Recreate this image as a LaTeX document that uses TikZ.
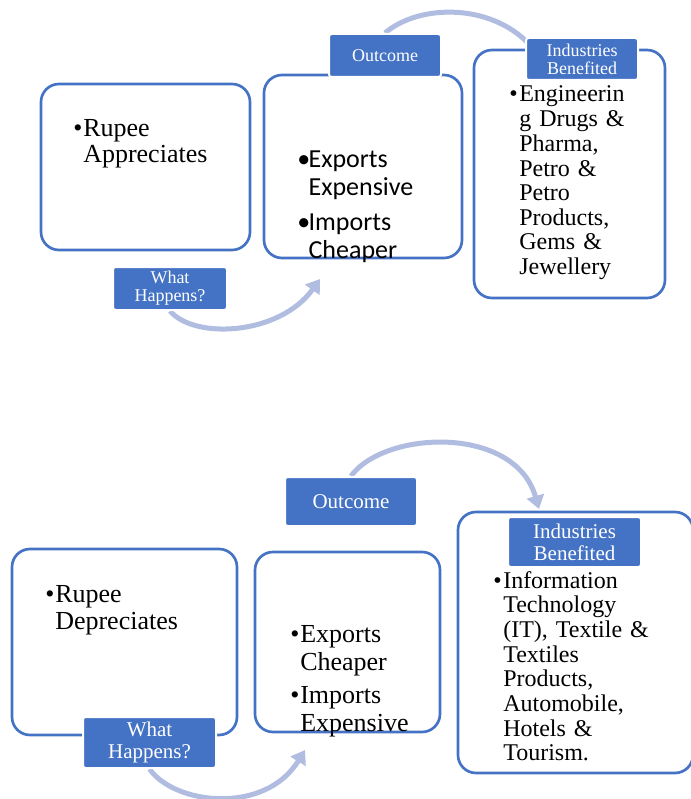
\documentclass[tikz,border=0pt]{standalone}
\usepackage{fontspec}
\setmainfont{Liberation Serif}
\newfontfamily\calib{Carlito}
\usetikzlibrary{arrows.meta,backgrounds}
\definecolor{smblue}{RGB}{68,114,196}
\definecolor{arrblue}{RGB}{176,189,225}
\newcommand{\blt}{\makebox[7.5pt][l]{\textbullet}}
\newcommand{\bin}{\hspace*{7.5pt}}
\newcommand{\bltC}{\makebox[8.5pt][l]{\textbullet}}
\newcommand{\binC}{\hspace*{8.5pt}}
\newcommand{\fszBody}{\fontsize{19.5}{20.25}\selectfont}
\newcommand{\fszList}{\fontsize{19.5}{21}\selectfont}
\newcommand{\fszGain}{\fontsize{18}{18.5}\selectfont}
\newcommand{\fszLblA}{\fontsize{13.5}{13.5}\selectfont}
\newcommand{\fszLblB}{\fontsize{15.75}{16.5}\selectfont}

\begin{document}
\begin{tikzpicture}[x=0.75pt,y=0.75pt,yscale=-1,
  box/.style={draw=smblue,line width=2pt,fill=white,rounded corners=13.5pt,inner sep=0pt},
  lbl/.style={draw=white,line width=1.5pt,fill=smblue,rounded corners=2pt,text=white,align=center,inner sep=0pt},
  txt/.style={anchor=base west,inner sep=0pt,align=left,text width=160pt},
  flow/.style={draw=arrblue,line width=3.75pt,-{Triangle[width=13pt,length=10pt]}}]
\useasboundingbox (0,0) rectangle (691,799);

%Rounded boxes, top row
\node[box,minimum width=156.75pt,minimum height=124.5pt] (apprA) at (145.5,167) {};
\node[box,minimum width=148.5pt,minimum height=137.25pt] (effA) at (363,166.5) {};
\node[box,minimum width=143.25pt,minimum height=186pt] (gainA) at (569.5,174) {};
%Labels, top row
\node[lbl,minimum width=85.5pt,minimum height=32.25pt,font=\fszLblA] (whatA) at (170,288.5) {What\\Happens?};
\node[lbl,minimum width=84pt,minimum height=32.25pt,font=\fszLblA] (outA) at (385,55.5) {Outcome};
\node[lbl,minimum width=84pt,minimum height=31.5pt,font=\fszLblA] (indA) at (582,59) {Industries\\Benefited};
% Text Node
\node[txt,font=\fszBody] (tApprA) at (73,136) {\blt Rupee\\\bin Appreciates};
% Text Node
\node[txt,font=\calib\fszList] (tEffA) at (297,167) {\bltC Exports\\\binC Expensive\\[5.25pt]\bltC Imports\\\binC Cheaper};
% Text Node
\node[txt,font=\fszGain] (tGainA) at (509,102) {\blt Engineerin\\\bin g Drugs \&\\\bin Pharma,\\\bin Petro \&\\\bin Petro\\\bin Products,\\\bin Gems \&\\\bin Jewellery};

%Rounded boxes, bottom row
\node[box,minimum width=168.75pt,minimum height=139.5pt] (deprB) at (124.5,642) {};
\node[box,minimum width=138.75pt,minimum height=135pt] (effB) at (347.5,642) {};
\node[box,minimum width=176.25pt,minimum height=195.75pt] (gainB) at (575.5,642.5) {};
%Labels, bottom row
\node[lbl,minimum width=99.75pt,minimum height=38.25pt,font=\fszLblB] (whatB) at (149.5,742.5) {What\\Happens?};
\node[lbl,minimum width=99pt,minimum height=36.75pt,font=\fszLblB] (outB) at (351,501.5) {Outcome};
\node[lbl,minimum width=99.75pt,minimum height=37.5pt,font=\fszLblB] (indB) at (574.5,542) {Industries\\Benefited};
% Text Node
\node[txt,font=\fszBody] (tDeprB) at (45,602) {\blt Rupee\\\bin Depreciates};
% Text Node
\node[txt,font=\fszList] (tEffB) at (290,642) {\blt Exports\\\bin Cheaper\\[3.75pt]\blt Imports\\\bin Expensive};
% Text Node
\node[txt,font=\fszGain] (tGainB) at (493,588) {\blt Information\\\bin Technology\\\bin (IT), Textile \&\\\bin Textiles\\\bin Products,\\\bin Automobile,\\\bin Hotels \&\\\bin Tourism.};

%Curved arrows, behind the boxes
\begin{scope}[on background layer]
\coordinate (tipA) at (320,279);
\coordinate (endA) at (541,58);
\coordinate (tipB) at (539,509);
\coordinate (tipC) at (305,750);
\draw[flow] (whatA.south) .. controls (195,340) and (280,335) .. (tipA);
\draw[flow] (outA.north) .. controls (420,3) and (495,3) .. (endA);
\draw[flow] (outB.north) .. controls (385,430) and (515,425) .. (tipB);
\draw[flow] (whatB.south) .. controls (175,805) and (265,815) .. (tipC);
\end{scope}

\end{tikzpicture}
\end{document}
